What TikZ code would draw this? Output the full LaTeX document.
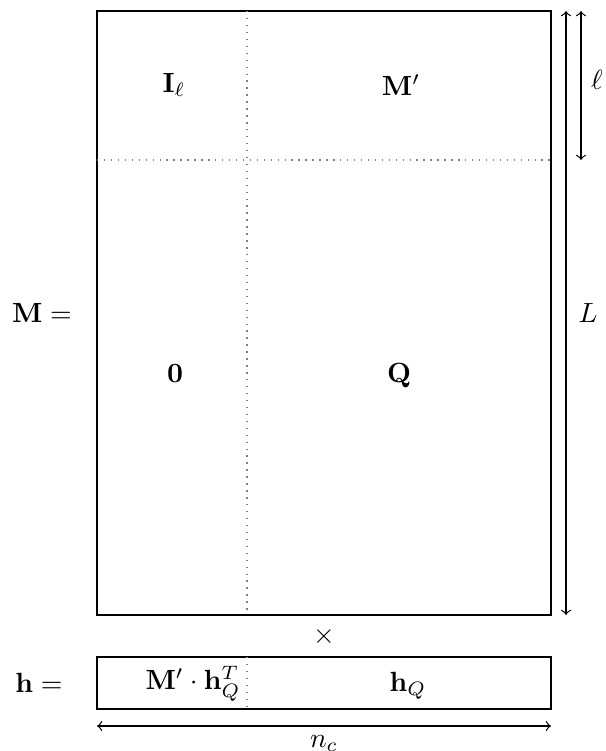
\documentclass[tikz,border=0pt]{standalone}
\usepackage{amsmath}
\begin{document}
\begin{tikzpicture}[x=0.36pt,y=-0.36pt,
  box/.style={draw,line width=0.5pt},
  sep/.style={draw=gray,dotted,line width=0.5pt},
  dim/.style={<->,line width=0.45pt},
  lbl/.style={inner sep=0pt}]
\useasboundingbox (0,0) rectangle (605,751);
% matrix M
\coordinate (Mnw) at (97,11);
\coordinate (Mse) at (551,615);
\draw[box] (Mnw) rectangle (Mse);
\coordinate (vt) at (247,11);
\coordinate (vb) at (247,615);
\coordinate (hl) at (97,160);
\coordinate (hr) at (551,160);
\draw[sep] (vt) -- (vb);
\draw[sep] (hl) -- (hr);
\node[lbl] (Il) at (174,85) {$\mathbf{I}_\ell$};
\node[lbl] (Mp) at (401,85) {$\mathbf{M}'$};
\node[lbl] (zero) at (175,374) {$\mathbf{0}$};
\node[lbl] (Q) at (399,376) {$\mathbf{Q}$};
\node[lbl] (Meq) at (42,313) {$\mathbf{M} =$};
% dimension arrows
\coordinate (Lt) at (566,11);
\coordinate (Lb) at (566,615);
\coordinate (lt) at (581,11);
\coordinate (lb) at (581,160);
\draw[dim] (Lt) -- (Lb);
\draw[dim] (lt) -- (lb);
\node[lbl] (ell) at (597,80) {$\ell$};
\node[lbl] (L) at (588,313) {$L$};
% times
\node[lbl] (times) at (324,637) {$\times$};
% vector h
\coordinate (hnw) at (97,657);
\coordinate (hse) at (551,709);
\draw[box] (hnw) rectangle (hse);
\coordinate (hvt) at (247,657);
\coordinate (hvb) at (247,709);
\draw[sep] (hvt) -- (hvb);
\node[lbl] (heq) at (39,683) {$\mathbf{h} =$};
\node[lbl] (Mh) at (193,684) {$\mathbf{M}'\cdot\mathbf{h}_Q^T$};
\node[lbl] (hQ) at (408,686) {$\mathbf{h}_Q$};
\coordinate (nl) at (97,726);
\coordinate (nr) at (551,726);
\draw[dim] (nl) -- (nr);
\node[anchor=north,inner sep=3.33pt] (nc) at (324,726) {$n_c$};
\end{tikzpicture}
\end{document}
